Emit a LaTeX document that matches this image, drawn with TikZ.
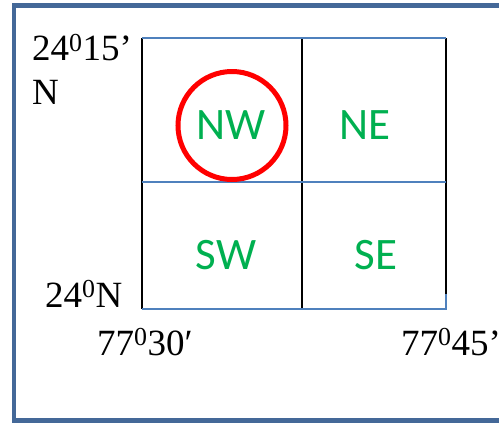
\documentclass[tikz,border=0pt]{standalone}
\usepackage{fontspec}
\setmainfont{Liberation Serif}
\newfontfamily\calib{Carlito}
\definecolor{framecol}{RGB}{68,104,152}
\definecolor{gridblue}{RGB}{79,129,189}
\definecolor{qgreen}{RGB}{0,176,80}
\begin{document}
\begin{tikzpicture}[x=1pt,y=-1pt,
  quad/.style={font=\calib\fontsize{45}{45}\selectfont, text=qgreen, inner sep=0pt},
  coord/.style={font=\fontsize{37}{44}\selectfont, text=black, inner sep=0pt, align=left},
  hline/.style={draw=gridblue, line width=1.8pt},
  vline/.style={draw=black, line width=1.8pt}]
\useasboundingbox (0,0) rectangle (499,424);
\clip (0,0) rectangle (499,424);
\fill[white] (0,0) rectangle (499,424);
\draw[framecol, line width=4.5pt] (14,5.5) rectangle (520,420.5);
% grid corners
\coordinate (tl) at (142,38);
\coordinate (tm) at (302,38);
\coordinate (tr) at (446,38);
\coordinate (ml) at (142,182);
\coordinate (mr) at (446,182);
\coordinate (bl) at (142,309);
\coordinate (bm) at (302,309);
\coordinate (br) at (446,309);
\coordinate (rb) at (446,294);
\draw[vline] (tl) -- (bl);
\draw[vline] (tm) -- (bm);
\draw[vline] (tr) -- (rb);
\draw[hline] (tl) -- (tr);
\draw[hline] (ml) -- (mr);
\draw[hline] (bl) -- (br) -- (rb);
% quadrant labels
\node[quad] (nw) at (231,125) {NW};
\node[quad] (ne) at (365,125) {NE};
\node[quad] (sw) at (226,255) {SW};
\node[quad] (se) at (376,255) {SE};
\draw[red, line width=5pt] (232,125.5) circle (54);
% coordinate labels
\node[coord, anchor=north west] (lat1) at (32,34) {24\textsuperscript{0}15’\\N};
\node[coord, anchor=base west] (lat0) at (45,307) {24\textsuperscript{0}N};
\node[coord, anchor=base west] (lon0) at (97,355) {77\textsuperscript{0}30′};
\node[coord, anchor=base west] (lon1) at (401,355) {77\textsuperscript{0}45’};
\end{tikzpicture}
\end{document}
